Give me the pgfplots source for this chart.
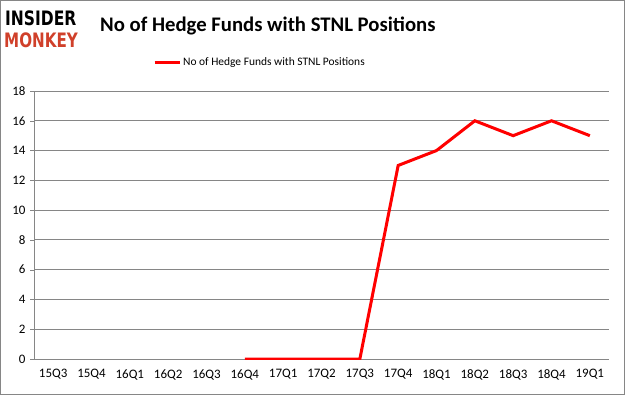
\documentclass[border=0pt]{standalone}
\usepackage{pgfplots}
\pgfplotsset{compat=1.18}
\usepackage{fontspec}
\setmainfont{Carlito}
\newfontfamily\logofont{DejaVu Sans}
\definecolor{gridgray}{RGB}{134,134,134}
\definecolor{monkeyred}{RGB}{208,64,42}
\begin{document}
\begin{tikzpicture}[x=1bp,y=1bp]
\useasboundingbox (0,0) rectangle (625,395);
\draw[gridgray,line width=1bp] (0.5,0.5) rectangle (624.5,394.5);
\node[anchor=west,inner sep=0,font=\logofont\bfseries\fontsize{19}{19}\selectfont] at (5,377) {\scalebox{0.82}[1.05]{INSIDER}};
\node[anchor=west,inner sep=0,font=\logofont\bfseries\fontsize{19}{19}\selectfont,text=monkeyred] at (4,355) {\scalebox{0.8}[1.05]{MONKEY}};
\node[anchor=west,inner sep=0,font=\bfseries\fontsize{20.8}{24}\selectfont] at (100,369) {No of Hedge Funds with STNL Positions};
\begin{axis}[
  at={(34bp,36bp)}, anchor=south west,
  scale only axis, width=575bp, height=268bp,
  xmin=-0.5, xmax=14.5, ymin=0, ymax=18,
  axis x line=bottom, axis y line=left,
  axis line style={gridgray,-},
  xtick={0,...,14},
  xticklabels={15Q3,15Q4,16Q1,16Q2,16Q3,16Q4,17Q1,17Q2,17Q3,17Q4,18Q1,18Q2,18Q3,18Q4,19Q1},
  minor xtick={-0.5,0.5,...,14.5},
  x tick style={draw=none},
  minor x tick style={gridgray},
  ytick={0,2,...,18},
  y tick style={gridgray},
  major tick length=4bp, minor tick length=4bp,
  tick align=outside,
  /pgf/number format/assume math mode=true,
  ymajorgrids, grid style={gridgray,line width=0.8bp},
  tick label style={font=\fontsize{13}{14}\selectfont, text=black},
  xticklabel style={yshift=-3bp},
  yticklabel style={xshift=-1bp},
  legend style={at={(0.393,1.108)}, anchor=center, draw=none, fill=none, font=\fontsize{11.5}{12}\selectfont, legend cell align=left},
  legend image code/.code={\draw[#1] (0bp,0bp) -- (25bp,0bp);},
]
\addplot[red, line width=3bp] coordinates {(5,0) (6,0) (7,0) (8,0) (9,13) (10,14) (11,16) (12,15) (13,16) (14,15)};
\addlegendentry{No of Hedge Funds with STNL Positions}
\end{axis}
\end{tikzpicture}
\end{document}
